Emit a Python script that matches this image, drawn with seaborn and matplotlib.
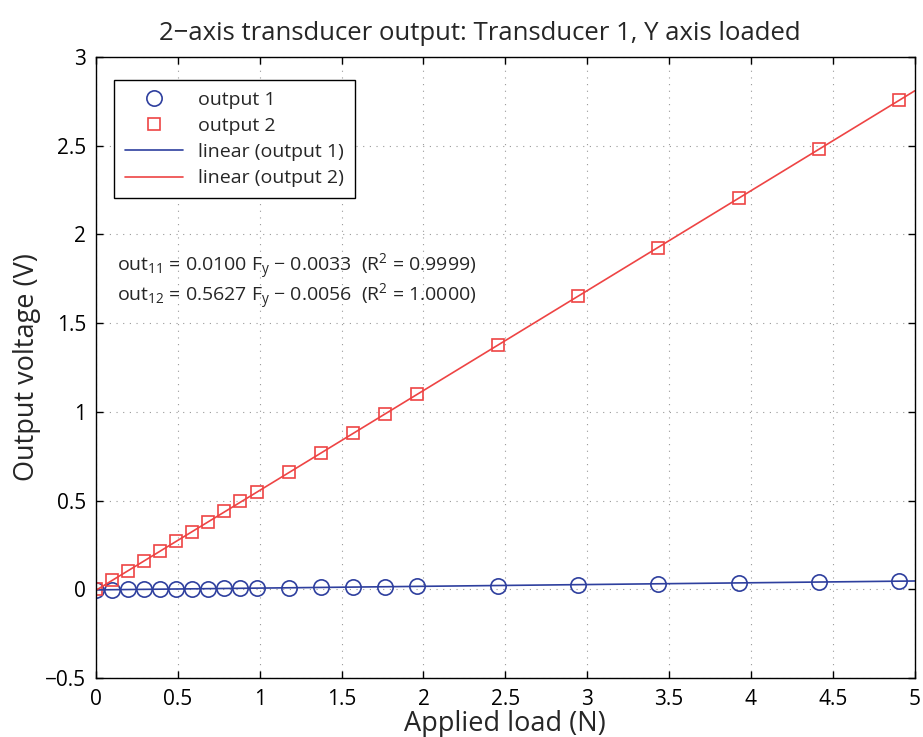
import numpy as np
import pandas as pd
import matplotlib
matplotlib.use("Agg")
import matplotlib.pyplot as plt
import seaborn as sns

# ---- data ----
load_N = [0.000, 0.098, 0.196, 0.294, 0.392, 0.490, 0.588, 0.686, 0.784, 0.882,
          0.981, 1.177, 1.373, 1.570, 1.766, 1.962, 2.453, 2.943, 3.434, 3.924,
          4.415, 4.905]
output1 = [-0.003, -0.002, -0.001, 0.000, 0.001, 0.002, 0.003, 0.004, 0.005, 0.006,
           0.007, 0.009, 0.011, 0.012, 0.014, 0.016, 0.021, 0.026, 0.031, 0.036,
           0.041, 0.046]
output2 = [0.000, 0.050, 0.105, 0.160, 0.215, 0.270, 0.325, 0.380, 0.440, 0.495,
           0.550, 0.660, 0.770, 0.880, 0.990, 1.100, 1.375, 1.650, 1.925, 2.205,
           2.480, 2.755]
fit_slope = [0.0100, 0.5627]
fit_intercept = [-0.0033, -0.0056]
fit_x = [0.0, 5.0]
series_labels = ["output 1", "output 2"]
fit_labels = ["linear (output 1)", "linear (output 2)"]
xticks = [0, 0.5, 1, 1.5, 2, 2.5, 3, 3.5, 4, 4.5, 5]
xticklabels = ["0", "0.5", "1", "1.5", "2", "2.5", "3", "3.5", "4", "4.5", "5"]
yticks = [-0.5, 0, 0.5, 1, 1.5, 2, 2.5, 3]
yticklabels = ["\u22120.5", "0", "0.5", "1", "1.5", "2", "2.5", "3"]

MINUS = "\u2212"
eq_lines = [
    r"out$_{11}$ = 0.0100 F$_{y}$ " + MINUS + r" 0.0033  (R$^{2}$ = 0.9999)",
    r"out$_{12}$ = 0.5627 F$_{y}$ " + MINUS + r" 0.0056  (R$^{2}$ = 1.0000)",
]

blue = "#2e3f9e"
red = "#ee4444"

sns.set_style("white")
plt.rcParams["font.family"] = ["Open Sans", "DejaVu Sans"]
plt.rcParams["mathtext.fontset"] = "custom"
plt.rcParams["mathtext.rm"] = "Open Sans"
plt.rcParams["mathtext.it"] = "Open Sans"

fig = plt.figure(figsize=(9.23, 7.37), dpi=100)
ax = fig.add_axes([0.104, 0.080, 0.887, 0.843])

df = pd.DataFrame({"load": load_N, "out1": output1, "out2": output2})

sns.lineplot(data=df, x="load", y="out1", ax=ax, linestyle="", marker="o",
             markersize=11, markerfacecolor="none", markeredgecolor=blue,
             markeredgewidth=1.2, color=blue, label=series_labels[0],
             estimator=None, sort=False)
sns.lineplot(data=df, x="load", y="out2", ax=ax, linestyle="", marker="s",
             markersize=9, markerfacecolor="none", markeredgecolor=red,
             markeredgewidth=1.2, color=red, label=series_labels[1],
             estimator=None, sort=False)

fx = np.array(fit_x)
for k, c in enumerate([blue, red]):
    sns.lineplot(x=fx, y=fit_slope[k] * fx + fit_intercept[k], ax=ax, color=c,
                 linewidth=1.2, label=fit_labels[k], estimator=None, sort=False)

ax.set_xlim(0, 5)
ax.set_ylim(-0.5, 3)
ax.set_xticks(xticks)
ax.set_xticklabels(xticklabels)
ax.set_yticks(yticks)
ax.set_yticklabels(yticklabels)
ax.tick_params(direction="in", length=5, width=1, labelsize=15, colors="black",
               top=True, right=True, bottom=True, left=True, pad=7)
ax.tick_params(axis="x", pad=8)
ax.grid(True, linestyle=(0, (1, 5)), color="#999999", linewidth=0.8)
for s in ax.spines.values():
    s.set_color("black")
    s.set_linewidth(1.0)

ax.set_title("2\u2212axis transducer output: Transducer 1, Y axis loaded",
             fontsize=18.5, pad=12, x=0.469)
ax.set_xlabel("Applied load (N)", fontsize=19.5, labelpad=0)
ax.set_ylabel("Output voltage (V)", fontsize=19.5, labelpad=3)

ax.text(0.13, 1.815, eq_lines[0], fontsize=14, va="center")
ax.text(0.13, 1.645, eq_lines[1], fontsize=14, va="center")

leg = ax.legend(loc="upper left", bbox_to_anchor=(0.010, 0.978), fontsize=14,
                frameon=True, fancybox=False, framealpha=1, edgecolor="black",
                borderpad=0.55, labelspacing=0.42, handlelength=3.0)
leg.get_frame().set_linewidth(1.0)

fig.savefig("out.png", dpi=100)
